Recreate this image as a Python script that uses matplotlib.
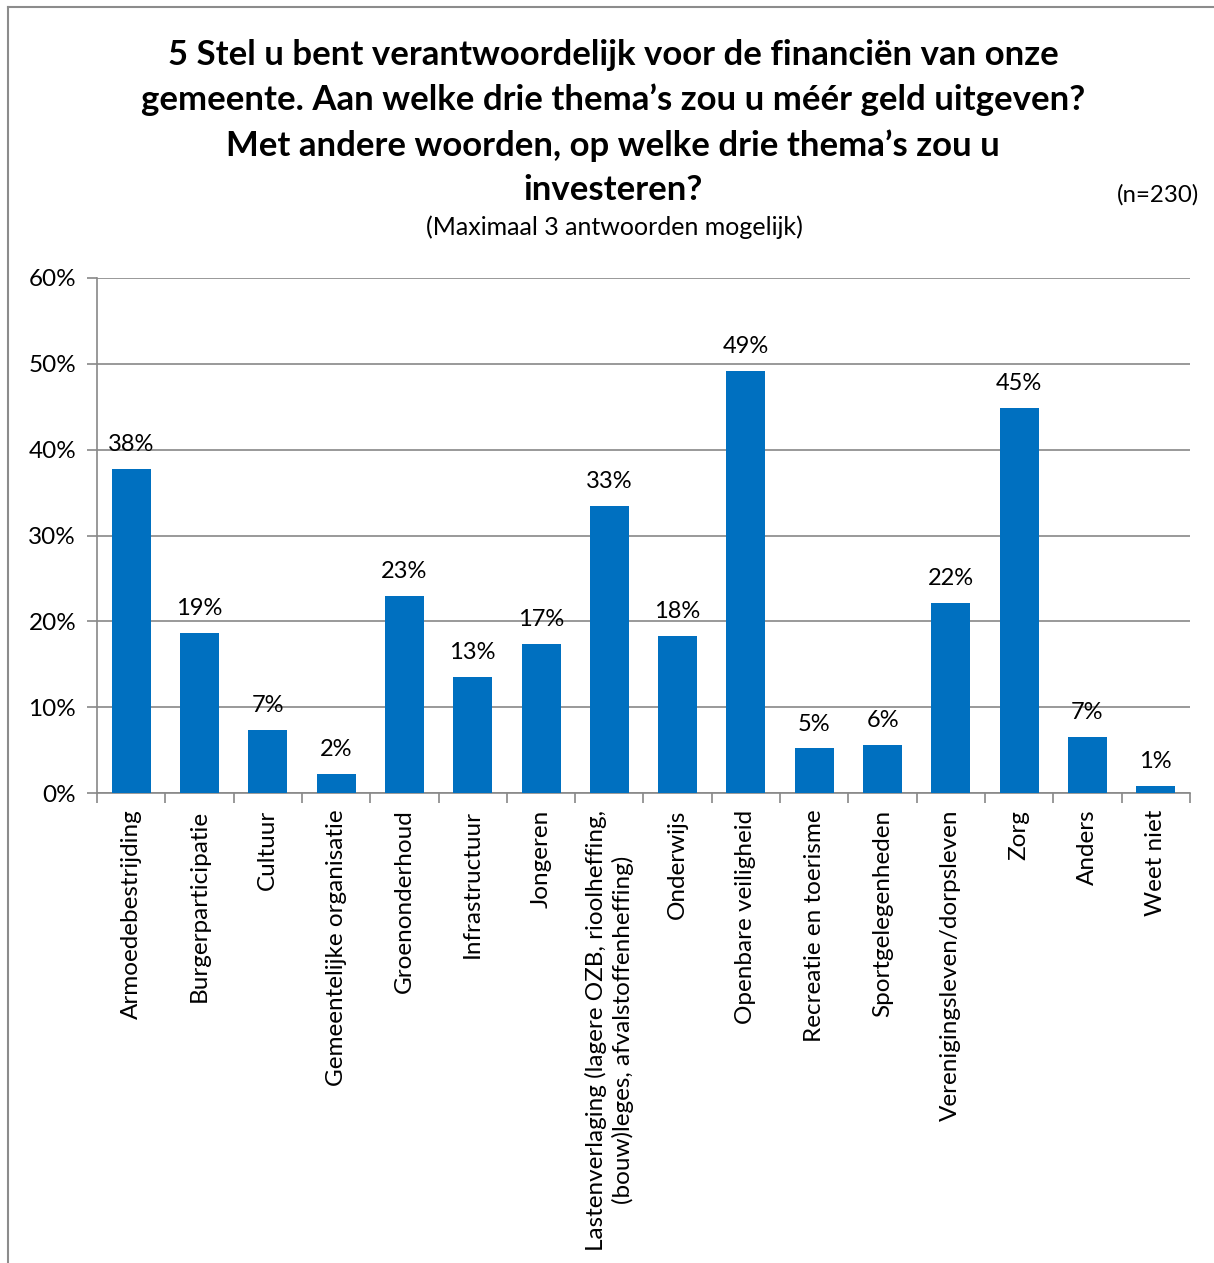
import numpy as np
import matplotlib.pyplot as plt
from matplotlib.lines import Line2D

plt.rcParams['font.family'] = ['Lato', 'DejaVu Sans']

# Data
categories = [
    'Armoedebestrijding', 'Burgerparticipatie', 'Cultuur', 'Gemeentelijke organisatie',
    'Groenonderhoud', 'Infrastructuur', 'Jongeren',
    'Lastenverlaging (lagere OZB, rioolheffing,\n(bouw)leges, afvalstoffenheffing)',
    'Onderwijs', 'Openbare veiligheid', 'Recreatie en toerisme', 'Sportgelegenheden',
    'Verenigingsleven/dorpsleven', 'Zorg', 'Anders', 'Weet niet',
]
values = [37.8, 18.7, 7.4, 2.2, 23.0, 13.5, 17.4, 33.4, 18.3, 49.2, 5.2, 5.6, 22.1, 44.9, 6.5, 0.8]
value_labels = ['38%', '19%', '7%', '2%', '23%', '13%', '17%', '33%', '18%', '49%',
                '5%', '6%', '22%', '45%', '7%', '1%']
yticks = [0, 10, 20, 30, 40, 50, 60]

bar_color = '#0070C0'
grid_color = '#888888'

fig = plt.figure(figsize=(12.14, 12.63), dpi=100)
ax = fig.add_axes([0.0799, 0.3721, 0.9003, 0.4078])

x = np.arange(len(categories))
ax.bar(x, values, width=0.571, color=bar_color, zorder=3)

for xi, v, lab in zip(x, values, value_labels):
    ax.annotate(lab, (xi, v), xytext=(0, 10), textcoords='offset points',
                ha='center', va='bottom', fontsize=17)

ax.set_xlim(-0.5, len(categories) - 0.5)
ax.set_ylim(0, 60)
ax.set_yticks(yticks)
ax.set_yticklabels([f'{t}%' for t in yticks], fontsize=17.5)
ax.yaxis.grid(True, color=grid_color, linewidth=1.2, zorder=0)

# category labels, ticks at boundaries
ax.set_xticks(x)
ax.set_xticklabels(categories, rotation=90, fontsize=17.5, linespacing=1.3)
ax.tick_params(axis='x', length=0, pad=12)
ax.set_xticks(np.arange(-0.5, len(categories)), minor=True)
ax.tick_params(axis='x', which='minor', length=7, color=grid_color, width=1.2)
ax.tick_params(axis='y', length=7, color=grid_color, width=1.2, pad=8)

for side in ['top', 'right']:
    ax.spines[side].set_visible(False)
for side in ['left', 'bottom']:
    ax.spines[side].set_color(grid_color)
    ax.spines[side].set_linewidth(1.2)

# Title and notes
fig.text(0.505, 0.903,
         "5 Stel u bent verantwoordelijk voor de financiën van onze\n"
         "gemeente. Aan welke drie thema’s zou u méér geld uitgeven?\n"
         "Met andere woorden, op welke drie thema’s zou u\n"
         "investeren?",
         ha='center', va='center', fontsize=25, fontweight='bold', linespacing=1.48)
fig.text(0.506, 0.820, '(Maximaal 3 antwoorden mogelijk)', ha='center', va='center', fontsize=18)
fig.text(0.988, 0.846, '(n=230)', ha='right', va='center', fontsize=17.3)

# outer frame (top and left edges visible)
fig.add_artist(Line2D([0.0066, 0.0066], [0.0, 0.9945], transform=fig.transFigure,
                      color='#8c8c8c', linewidth=1.5))
fig.add_artist(Line2D([0.0066, 1.0], [0.9945, 0.9945], transform=fig.transFigure,
                      color='#8c8c8c', linewidth=1.5))

fig.savefig('out.png', dpi=100)
